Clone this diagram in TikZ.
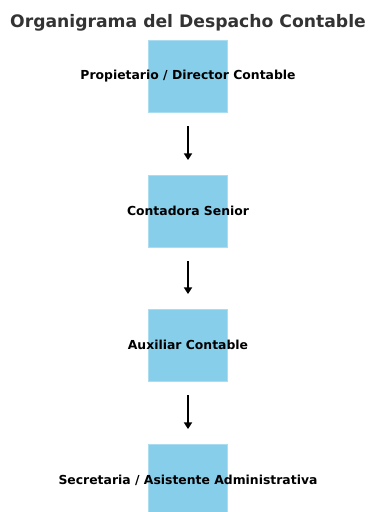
\documentclass[tikz,border=0pt]{standalone}
\usepackage{fontspec}
\setmainfont{DejaVu Sans}
\usetikzlibrary{arrows.meta}
\definecolor{boxblue}{HTML}{87CEEB}
\definecolor{titlegray}{HTML}{333333}

\begin{document}
\begin{tikzpicture}[x=0.75pt,y=-0.75pt,>/.tip={Triangle[length=5pt,width=6pt]}]
\useasboundingbox (0,0) rectangle (369,512);
\tikzset{rolebox/.style={fill=boxblue,draw=boxblue!70!white,line width=0.4pt,minimum width=59.25pt,minimum height=54pt,inner sep=0pt},
         rolename/.style={font=\fontsize{9.3pt}{11pt}\selectfont\bfseries,text=black,inner sep=0pt}}
\draw (188,76)  node (p) [rolebox] {};
\draw (188,211) node (c) [rolebox] {};
\draw (188,345) node (a) [rolebox] {};
\draw (188,480) node (s) [rolebox] {};

\node (title) at (188,23) [font=\fontsize{12.9pt}{15pt}\selectfont\bfseries,text=titlegray] {Organigrama del Despacho Contable};

\node (pt) [rolename] at (p.center) {Propietario / Director Contable};
\node (ct) [rolename] at (c.center) {Contadora Senior};
\node (at) [rolename] at (a.center) {Auxiliar Contable};
\node (st) [rolename] at (s.center) {Secretaria / Asistente Administrativa};

\draw[->,line width=1.4pt,shorten <=10.5pt,shorten >=11pt] (p) -- (c);
\draw[->,line width=1.4pt,shorten <=10.5pt,shorten >=11pt] (c) -- (a);
\draw[->,line width=1.4pt,shorten <=10.5pt,shorten >=11pt] (a) -- (s);
\end{tikzpicture}
\end{document}
